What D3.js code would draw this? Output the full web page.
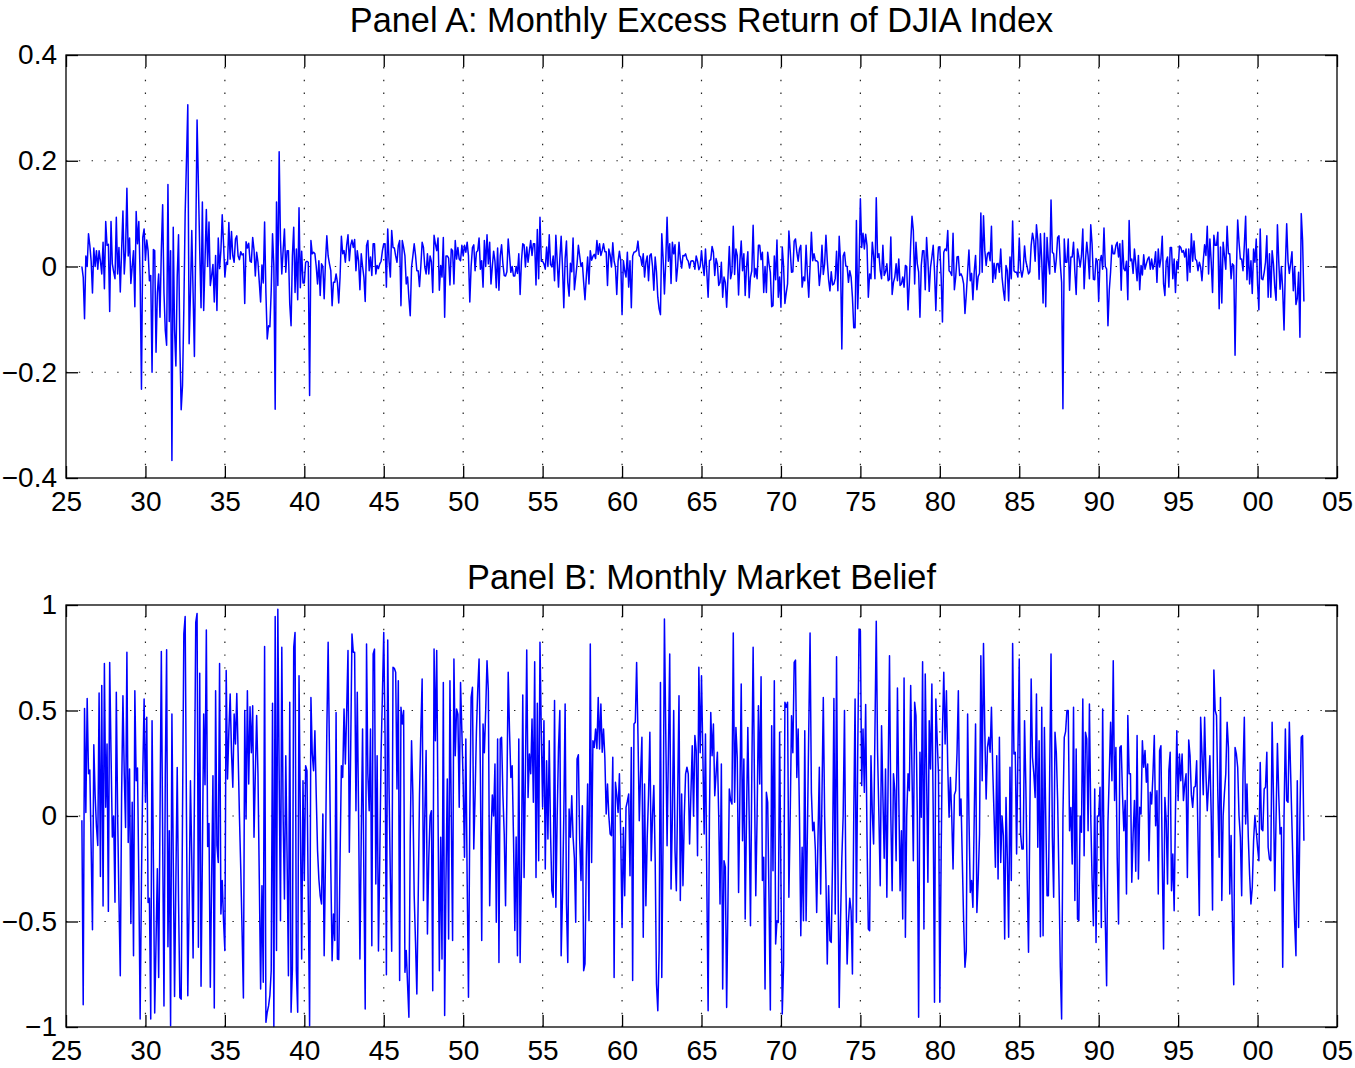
<!DOCTYPE html>
<html lang="en">
<head>
  <meta charset="UTF-8">
  <title>Monthly Excess Return of DJIA Index / Monthly Market Belief</title>
  <style>
  * {
    margin: 0;padding: 0;
  }
  body {
    background: #fff;
  }
  svg {
    display: block;
    font-family: "Liberation Sans", Arial, Helvetica, sans-serif;
  }
  </style>
  <script src="https://cdn.jsdelivr.net/npm/d3@7"></script>
</head>
<body>
<svg width="1355" height="1068" id="fig"></svg>
<script>
// first month of both series (Jan 1926), one value per month
const startYear = 1926;

const xTickYears = [1925, 1930, 1935, 1940, 1945, 1950, 1955, 1960, 1965, 1970, 1975, 1980, 1985, 1990, 1995, 2000, 2005];
const panelATicks = [-0.4, -0.2, 0, 0.2, 0.4];
const panelBTicks = [-1, -0.5, 0, 0.5, 1];
const panelTitles = ["Panel A: Monthly Excess Return of DJIA Index", "Panel B: Monthly Market Belief"];

// Panel A, one row per year (Jan..Dec)
const excessReturn = [
  0.0, -0.02, -0.099, 0.02, 0.0, 0.062, 0.04, 0.01, -0.05, 0.035, 0.0, 0.03, // 1926
  -0.005, 0.03, 0.01, -0.014, 0.046, -0.042, 0.085, 0.04, 0.042, -0.085, 0.085, 0.005,
  -0.01, -0.023, 0.093, -0.014, 0.036, -0.048, 0.03, 0.105, -0.014, 0.03, 0.148, 0.02,
  0.054, -0.032, 0.0, 0.03, -0.076, 0.104, 0.043, 0.085, -0.02, -0.232, 0.055, 0.071,
  0.012, 0.05, 0.03, -0.027, -0.017, -0.2, 0.032, 0.03, -0.162, -0.05, -0.014, -0.096, // 1930
  0.03, 0.117, -0.05, -0.121, -0.149, 0.155, -0.104, 0.03, -0.367, 0.074, -0.12, -0.188,
  -0.02, 0.06, -0.15, -0.271, -0.225, -0.08, 0.1, 0.2, 0.306, -0.146, -0.05, 0.068,
  -0.05, -0.17, 0.05, 0.277, 0.156, 0.03, -0.078, 0.122, -0.083, 0.01, 0.108, 0.0,
  0.084, -0.036, -0.017, 0.004, -0.067, 0.021, -0.083, 0.054, -0.004, 0.03, 0.098, 0.043,
  -0.02, 0.008, 0.004, 0.083, 0.014, 0.066, 0.02, 0.008, 0.052, 0.058, 0.02, 0.013,
  0.028, 0.022, 0.024, -0.07, 0.047, 0.035, 0.044, 0.01, 0.008, 0.055, 0.032, -0.018,
  0.027, 0.008, -0.03, -0.067, 0.003, -0.031, 0.084, -0.05, -0.137, -0.112, -0.114, -0.046,
  0.062, 0.0, -0.27, 0.122, -0.036, 0.217, 0.05, -0.014, 0.03, 0.071, -0.011, 0.03,
  0.03, -0.071, -0.112, 0.02, 0.074, -0.049, 0.033, -0.063, 0.111, -0.04, 0.029, -0.031,
  -0.031, 0.008, 0.01, 0.008, -0.244, 0.049, 0.024, 0.027, 0.024, 0.0, -0.033, 0.011, // 1940
  -0.055, 0.005, 0.0, -0.061, 0.01, 0.058, 0.02, 0.005, -0.008, -0.074, -0.03, -0.03,
  -0.014, -0.03, -0.069, -0.02, 0.057, 0.024, 0.03, 0.008, 0.04, 0.06, 0.011, 0.04,
  0.05, 0.036, 0.051, -0.008, 0.03, 0.01, -0.044, 0.024, 0.0, -0.02, -0.066, 0.04,
  0.049, -0.008, 0.018, -0.017, 0.043, 0.043, -0.014, 0.002, -0.004, 0.005, 0.01, 0.03,
  0.043, 0.043, -0.039, 0.071, 0.01, -0.02, 0.068, 0.036, 0.035, 0.02, 0.008, 0.04,
  0.049, -0.074, 0.049, 0.036, 0.02, -0.033, -0.02, -0.06, -0.093, -0.001, 0.02, 0.043,
  0.021, -0.008, -0.008, -0.038, 0.0, 0.046, 0.036, -0.001, -0.014, 0.024, -0.014, 0.02,
  0.009, -0.049, 0.059, 0.043, 0.03, 0.054, -0.045, 0.002, -0.02, 0.055, -0.096, 0.02,
  0.02, 0.016, -0.035, 0.033, 0.03, -0.033, 0.049, 0.014, 0.036, 0.014, 0.011, 0.04,
  0.02, 0.04, 0.027, 0.046, 0.02, -0.067, 0.0, 0.036, 0.041, -0.008, 0.027, 0.03, // 1950
  0.054, -0.005, 0.011, -0.039, 0.049, 0.0, 0.06, 0.005, 0.046, -0.033, 0.0, 0.029,
  0.01, -0.04, 0.035, -0.045, 0.02, 0.041, 0.005, -0.017, -0.018, -0.01, 0.052, 0.02,
  -0.011, 0.0, -0.018, -0.018, 0.0, -0.013, 0.024, -0.053, 0.01, 0.043, 0.041, -0.001,
  0.037, 0.008, 0.03, 0.049, 0.021, 0.043, 0.043, -0.035, 0.07, -0.023, 0.093, 0.01,
  0.01, 0.005, -0.005, 0.037, 0.0, 0.06, 0.004, -0.001, 0.02, -0.027, 0.059, 0.01,
  -0.039, 0.015, 0.057, 0.0, -0.078, 0.015, 0.048, -0.03, -0.056, 0.006, -0.01, 0.054,
  -0.044, -0.02, 0.005, 0.04, 0.02, 0.0, 0.007, -0.03, -0.063, -0.02, 0.018, -0.033,
  0.03, 0.012, 0.019, 0.023, 0.015, 0.049, 0.023, 0.043, 0.021, 0.03, 0.043, 0.028,
  0.028, -0.036, 0.033, 0.022, -0.001, 0.045, 0.01, -0.001, -0.053, 0.01, 0.029, 0.01,
  -0.091, 0.011, -0.008, -0.02, 0.027, -0.039, 0.011, -0.078, 0.02, 0.027, 0.028, 0.03, // 1960
  0.048, 0.021, 0.018, 0.002, 0.024, -0.02, 0.008, 0.02, -0.027, 0.021, 0.024, 0.0,
  -0.045, 0.018, -0.01, -0.058, -0.08, -0.091, 0.062, 0.015, -0.052, 0.01, 0.093, 0.01,
  0.043, -0.032, 0.046, 0.024, 0.041, -0.028, 0.0, 0.046, 0.014, -0.003, 0.021, 0.02,
  0.024, 0.014, 0.01, -0.003, 0.01, 0.011, 0.01, -0.005, 0.02, 0.01, -0.006, 0.0,
  0.03, 0.002, -0.017, 0.033, -0.01, -0.058, 0.011, 0.013, 0.038, 0.027, -0.017, 0.015,
  0.005, -0.036, -0.03, 0.008, -0.058, -0.02, -0.03, -0.077, -0.02, 0.038, -0.023, -0.01,
  0.076, -0.015, 0.033, 0.021, -0.054, 0.01, 0.048, -0.008, 0.024, -0.055, -0.001, 0.028,
  -0.059, -0.02, -0.008, 0.078, -0.02, -0.004, -0.023, 0.04, 0.04, 0.013, 0.027, -0.049,
  0.0, -0.049, 0.027, 0.005, -0.011, -0.076, -0.074, 0.02, -0.025, 0.05, -0.058, -0.02,
  -0.077, 0.037, 0.0, -0.07, -0.05, -0.033, 0.067, 0.03, -0.011, -0.01, 0.048, 0.052, // 1970
  0.027, 0.01, 0.033, 0.04, -0.039, -0.02, -0.027, 0.04, -0.015, -0.058, 0.0, 0.065,
  0.011, 0.024, 0.011, 0.011, 0.008, -0.036, -0.011, 0.04, -0.015, 0.005, 0.059, 0.011,
  -0.025, -0.046, -0.01, -0.035, -0.033, -0.023, 0.029, -0.046, 0.057, 0.01, -0.156, 0.02,
  0.027, 0.001, 0.0, -0.03, -0.008, -0.02, -0.058, -0.116, -0.116, 0.087, -0.08, 0.0,
  0.128, 0.036, 0.063, 0.033, 0.061, 0.04, -0.058, -0.014, -0.023, 0.046, 0.02, -0.023,
  0.13, 0.017, 0.024, -0.008, -0.023, 0.04, -0.017, -0.01, 0.005, -0.027, -0.024, 0.056,
  -0.053, -0.03, -0.02, 0.005, -0.027, 0.014, -0.036, -0.033, -0.02, -0.039, 0.002, 0.0,
  -0.082, -0.03, 0.043, 0.095, 0.068, -0.033, 0.046, 0.005, -0.01, -0.096, 0.002, 0.03,
  0.03, -0.044, 0.055, 0.011, -0.047, -0.001, 0.018, 0.04, -0.01, -0.083, -0.001, 0.037,
  0.037, -0.02, -0.105, 0.027, 0.033, 0.03, 0.068, -0.008, -0.011, -0.017, 0.063, -0.044, // 1980
  -0.02, 0.018, 0.019, -0.017, -0.014, -0.02, -0.033, -0.089, -0.053, -0.01, 0.031, -0.027,
  -0.013, -0.063, -0.01, 0.021, -0.044, -0.019, -0.013, 0.101, -0.011, 0.096, 0.03, 0.002,
  0.024, 0.027, 0.011, 0.076, -0.03, 0.006, -0.023, 0.005, 0.006, -0.011, 0.033, -0.02,
  -0.045, -0.064, 0.002, -0.008, -0.065, 0.018, -0.023, 0.086, -0.008, -0.011, -0.011, -0.02,
  0.054, -0.005, -0.02, -0.006, 0.039, 0.01, -0.001, -0.014, -0.01, 0.04, 0.063, 0.049,
  0.01, 0.079, 0.05, -0.024, 0.062, 0.011, -0.069, 0.063, -0.076, 0.055, 0.01, -0.014,
  0.126, 0.027, 0.024, -0.011, 0.014, 0.055, 0.058, 0.005, -0.03, -0.269, 0.052, 0.008,
  0.008, 0.052, -0.045, 0.018, 0.018, 0.046, -0.01, -0.053, 0.033, 0.018, -0.001, 0.02,
  0.071, -0.042, 0.011, 0.046, 0.02, -0.023, 0.079, 0.043, -0.024, -0.025, 0.015, 0.01,
  -0.066, 0.01, 0.021, -0.005, 0.073, 0.0, -0.005, -0.112, -0.045, -0.01, 0.04, 0.024, // 1990
  0.024, 0.04, 0.046, 0.018, 0.043, -0.045, 0.049, -0.004, -0.008, 0.01, -0.063, 0.087,
  0.011, 0.014, -0.013, 0.033, 0.005, -0.027, 0.021, -0.044, 0.002, -0.016, 0.022, -0.005,
  0.005, 0.014, 0.018, -0.005, 0.014, -0.005, 0.005, 0.028, -0.03, 0.033, -0.001, 0.015,
  0.057, -0.033, -0.055, 0.01, 0.018, -0.039, 0.036, 0.036, -0.023, 0.014, -0.049, 0.01,
  -0.005, 0.039, 0.036, 0.027, 0.03, 0.018, 0.033, -0.027, 0.033, -0.011, 0.062, 0.01,
  0.048, 0.014, 0.011, -0.008, 0.008, -0.001, -0.027, 0.011, 0.041, 0.021, 0.076, -0.014,
  0.052, 0.008, -0.049, 0.059, 0.04, 0.04, 0.065, -0.08, 0.037, -0.069, 0.046, 0.02,
  -0.005, 0.076, 0.024, 0.024, -0.023, 0.005, 0.002, -0.168, -0.011, 0.088, 0.046, 0.014,
  0.014, -0.008, 0.04, 0.095, -0.025, 0.033, -0.033, 0.011, -0.051, 0.033, 0.008, 0.052,
  -0.033, -0.082, 0.071, -0.023, -0.025, -0.011, 0.008, 0.058, -0.058, 0.024, -0.058, 0.03, // 2000
  0.005, -0.039, -0.064, 0.079, 0.01, -0.043, 0.0, -0.045, -0.12, -0.001, 0.081, 0.01,
  -0.013, 0.006, 0.028, -0.046, 0.0, -0.072, -0.06, -0.011, -0.134, 0.1, 0.05, -0.066
];

// Panel B, same months
const marketBelief = [
  -0.02, -0.894, 0.51, 0.017, 0.557, 0.2, 0.218, -0.15, -0.539, 0.338, 0.1, -0.05, // 1926
  -0.14, 0.583, -0.287, 0.618, -0.427, 0.723, 0.041, 0.341, -0.452, 0.727, 0.3, -0.1,
  0.0, -0.409, 0.586, 0.01, -0.4, -0.757, 0.1, 0.57, 0.2, -0.054, 0.776, -0.125,
  0.223, -0.509, 0.065, -0.662, 0.594, 0.167, 0.227, -0.3, -0.962, -0.3, 0.2, 0.555,
  0.065, 0.468, -0.41, -0.39, -0.962, 0.452, -0.2, -0.934, -0.6, -0.25, -0.765, 0.0, // 1930
  0.78, -0.1, -0.9, 0.2, 0.788, -0.62, -0.07, -0.994, 0.483, -0.2, -0.856, -0.3,
  0.23, -0.4, -0.86, -0.868, 0.0, 0.863, 0.945, 0.0, -0.852, -0.4, 0.167, -0.2,
  -0.673, 0.1, 0.918, 0.96, -0.622, 0.676, -0.807, -0.2, 0.483, 0.148, 0.881, -0.145,
  -0.035, -0.812, -0.3, 0.191, -0.91, 0.594, -0.14, -0.22, 0.723, -0.464, -0.306, -0.5,
  -0.638, 0.689, 0.175, 0.4, 0.578, 0.3, 0.136, 0.483, 0.341, 0.581, 0.3, 0.0,
  -0.25, -0.55, -0.863, 0.5, -0.014, 0.594, 0.152, 0.518, 0.3, 0.523, -0.101, 0.2,
  0.476, 0.2, -0.3, -0.82, -0.33, -0.788, 0.803, -0.978, -0.93, -0.9, -0.85, -0.733,
  0.534, -0.998, 0.945, -0.638, 0.98, 0.2, -0.496, 0.8, 0.0, -0.393, 0.286, -0.2,
  -0.757, 0.539, -0.93, -0.725, 0.8, 0.87, -0.733, -0.93, 0.665, 0.0, -0.678, 0.167,
  -0.306, 0.238, 0.215, -0.4, -0.994, 0.562, 0.294, 0.215, 0.404, 0.1, -0.164, -0.3, // 1940
  -0.378, -0.417, 0.01, -0.662, -0.2, 0.4, 0.823, 0.3, -0.243, -0.686, -0.464, -0.59,
  0.491, -0.678, -0.68, -0.2, 0.238, 0.183, 0.507, 0.246, 0.5, 0.784, -0.172, 0.3,
  0.863, 0.776, 0.776, 0.025, 0.586, 0.0, -0.678, -0.1, 0.412, -0.3, -0.915, 0.815,
  0.2, 0.025, 0.412, -0.615, 0.768, 0.791, -0.322, 0.286, -0.64, -0.2, 0.3, 0.578,
  0.87, 0.373, -0.752, 0.834, 0.136, -0.3, -0.641, 0.705, 0.7, 0.681, 0.128, 0.641,
  -0.78, 0.515, 0.436, 0.5, -0.741, -0.638, -0.8, -0.954, -0.1, 0.357, 0.1, -0.378,
  -0.6, -0.844, -0.4, 0.1, 0.4, 0.649, -0.401, 0.0, 0.31, -0.559, -0.2, 0.0,
  0.025, -0.828, 0.791, 0.357, 0.784, 0.0, -0.733, -0.101, -0.678, 0.633, -0.946, -0.3,
  0.175, -0.583, 0.641, 0.0, -0.59, 0.744, 0.286, 0.507, 0.483, 0.041, 0.633, 0.4,
  0.152, -0.196, 0.365, -0.3, -0.859, 0.0, 0.562, 0.61, -0.156, 0.1, 0.4, 0.6, // 1950
  0.744, 0.2, -0.59, 0.436, 0.3, 0.5, 0.736, 0.594, -0.425, -0.1, 0.1, 0.0,
  0.246, -0.504, 0.365, -0.694, 0.365, 0.373, 0.1, -0.085, -0.425, 0.1, 0.681, 0.4,
  0.183, 0.238, -0.101, -0.543, -0.1, -0.662, 0.365, -0.694, -0.243, 0.573, -0.291, 0.2,
  0.787, 0.088, 0.294, 0.2, 0.46, 0.065, 0.731, -0.291, 0.534, -0.212, 0.823, 0.4,
  0.041, 0.452, -0.251, 0.262, -0.109, 0.357, -0.085, -0.354, -0.385, 0.547, -0.433, 0.0,
  0.325, 0.5, -0.662, -0.38, 0.0, 0.531, -0.417, -0.694, 0.033, -0.101, 0.096, -0.1,
  -0.2, -0.504, 0.27, 0.29, -0.117, -0.306, 0.049, -0.733, -0.701, -0.2, 0.152, -0.496,
  0.815, -0.22, 0.357, 0.325, 0.412, 0.32, 0.562, 0.318, 0.531, 0.302, 0.412, 0.278,
  0.01, 0.152, 0.0, -0.085, -0.093, 0.278, -0.765, 0.16, 0.1, 0.017, 0.2, -0.1,
  -0.528, -0.054, -0.378, 0.041, 0.07, 0.104, -0.283, 0.325, -0.78, 0.436, 0.444, 0.728, // 1960
  0.389, -0.022, 0.2, 0.373, -0.575, 0.152, -0.425, -0.1, 0.1, 0.397, -0.212, 0.0,
  0.144, -0.2, -0.796, -0.923, -0.638, 0.633, -0.765, -0.1, 0.934, 0.4, -0.141, 0.3,
  0.768, -0.346, 0.0, 0.5, -0.164, -0.354, 0.1, 0.57, -0.401, 0.104, -0.33, 0.0,
  0.2, 0.231, 0.2, -0.133, 0.104, 0.333, 0.0, 0.381, 0.31, -0.188, 0.705, 0.3,
  0.665, 0.3, -0.085, 0.389, -0.3, -0.923, 0.0, 0.491, 0.286, 0.436, 0.096, 0.2,
  0.302, 0.0, -0.417, 0.246, -0.82, -0.212, -0.243, -0.907, -0.4, 0.128, 0.073, 0.057,
  0.867, 0.065, 0.42, 0.278, -0.362, 0.1, 0.626, -0.117, 0.27, -0.488, 0.0, 0.42,
  0.0, -0.52, 0.2, 0.8, 0.16, -0.378, 0.0, 0.523, 0.152, 0.66, -0.306, -0.196,
  -0.82, 0.112, 0.065, -0.4, -0.919, 0.428, -0.259, 0.641, -0.607, -0.496, -0.504, 0.397,
  -0.3, -0.938, -0.7, 0.539, 0.515, 0.539, -0.385, 0.0, 0.475, 0.3, 0.728, 0.739, // 1970
  0.183, 0.412, 0.0, -0.567, -0.148, -0.496, 0.404, -0.496, -0.07, 0.4, 0.867, 0.112,
  -0.07, -0.03, -0.16, -0.457, -0.1, 0.231, -0.37, 0.1, 0.562, 0.0, -0.3, -0.701,
  -0.33, -0.59, -0.599, -0.2, 0.557, -0.464, 0.755, -0.2, -0.907, -0.5, -0.2, 0.0,
  0.5, -0.3, -0.701, -0.5, -0.39, -0.449, -0.749, 0.0, 0.555, -0.504, 0.3, 0.886,
  0.878, 0.144, 0.412, 0.112, 0.528, -0.1, -0.536, -0.544, 0.286, 0.017, -0.133, 0.4,
  0.923, 0.3, 0.0, -0.33, 0.428, 0.1, -0.2, 0.223, -0.385, 0.2, 0.76, 0.0,
  -0.354, 0.2, 0.12, -0.212, 0.607, 0.1, -0.354, -0.07, -0.488, 0.654, -0.575, 0.0,
  0.2, 0.12, 0.618, 0.2, -0.212, 0.539, 0.476, 0.0, -0.954, 0.302, -0.006, 0.731,
  -0.536, 0.673, 0.2, -0.314, 0.452, 0.223, 0.626, 0.03, -0.883, 0.555, 0.365, 0.2,
  -0.883, -0.2, 0.4, 0.681, 0.341, 0.594, 0.231, -0.006, 0.183, 0.0, -0.251, 0.1, // 1980
  0.12, 0.3, 0.594, 0.002, 0.081, -0.212, -0.5, -0.717, -0.64, 0.483, 0.0, -0.362,
  -0.306, -0.433, 0.0, 0.436, -0.457, -0.3, -0.085, 0.76, 0.167, 0.818, 0.4, 0.081,
  0.325, 0.373, 0.302, 0.515, 0.214, 0.0, -0.243, 0.286, -0.299, 0.373, -0.22, 0.0,
  -0.093, -0.583, 0.088, -0.2, -0.575, 0.231, -0.306, 0.818, 0.294, 0.302, -0.18, 0.3,
  0.744, -0.085, -0.156, -0.156, 0.452, 0.136, -0.3, -0.646, 0.0, 0.649, 0.278, 0.2,
  0.088, 0.578, -0.148, 0.357, -0.572, 0.515, -0.567, 0.42, 0.0, -0.378, -0.378, 0.2,
  0.768, -0.1, -0.385, 0.397, 0.3, 0.073, -0.3, -0.717, -0.962, 0.0, 0.373, 0.4,
  0.5, 0.5, -0.07, 0.04, -0.227, 0.515, -0.401, 0.318, -0.488, -0.496, 0.0, -0.077,
  0.555, -0.188, 0.397, 0.365, -0.07, 0.531, 0.0, -0.3, -0.52, 0.128, -0.599, 0.0,
  0.0, 0.136, -0.528, 0.507, -0.2, -0.5, -0.804, -0.03, 0.2, 0.444, 0.167, 0.736, // 1990
  0.073, 0.325, -0.2, -0.512, 0.325, 0.333, 0.1, -0.07, 0.073, -0.37, 0.476, 0.2,
  0.2, -0.314, -0.085, 0.073, -0.262, 0.381, -0.299, 0.041, 0.01, 0.357, 0.231, 0.31,
  0.16, 0.246, -0.212, 0.112, 0.057, 0.2, 0.381, -0.046, 0.12, -0.37, 0.31, 0.333,
  -0.2, -0.63, 0.088, -0.02, -0.322, 0.215, 0.302, -0.354, -0.18, -0.449, 0.025, 0.404,
  0.073, 0.294, 0.167, 0.294, 0.073, 0.15, 0.2, -0.291, 0.36, 0.286, 0.1, 0.041,
  0.136, 0.14, 0.262, -0.1, -0.472, 0.468, 0.3, 0.101, 0.468, 0.2, 0.025, 0.15,
  0.286, 0.0, -0.445, 0.692, 0.5, 0.476, 0.1, -0.196, 0.562, -0.401, 0.0, 0.112,
  0.2, 0.444, 0.325, -0.37, -0.093, -0.5, -0.8, 0.325, 0.294, 0.23, 0.0, -0.1,
  -0.378, 0.2, 0.468, -0.038, 0.152, -0.1, -0.28, -0.417, -0.338, -0.117, 0.002, -0.07,
  -0.148, -0.212, 0.254, -0.062, -0.07, 0.128, 0.136, 0.302, -0.148, -0.204, -0.212, 0.444, // 2000
  0.1, -0.354, 0.0, 0.344, 0.1, -0.085, -0.054, -0.717, 0.0, 0.412, 0.073, 0.065,
  0.444, 0.2, -0.05, -0.3, -0.5, -0.662, 0.167, -0.528, 0.0, 0.373, 0.381, -0.117
];

const svg = d3.select("#fig");

const left = 66, right = 1337;
const tickLen = 12;

// x axis is shared: calendar years, labelled with two digits
const x = d3.scaleLinear().domain([1925, 2005]).range([left, right]);
const yearLabel = d => d3.format("02d")(d % 100);
const numLabel = d => (d < 0 ? "\u2212" : "") + Math.abs(d);

function drawPanel (values, yTicks, yDomain, top, bottom, title, titleY) {
  const y = d3.scaleLinear().domain(yDomain).range([bottom, top]);
  const g = svg.append("g");

  // dotted grid
  const grid = g.append("g")
    .attr("stroke", "#222")
    .attr("stroke-width", 1.2)
    .attr("stroke-dasharray", "1.4,11.4");
  grid.selectAll("line.gx").data(xTickYears.slice(1, -1)).enter()
    .append("line")
    .attr("x1", d => x(d)).attr("x2", d => x(d))
    .attr("y1", bottom).attr("y2", top);
  grid.selectAll("line.gy").data(yTicks.slice(1, -1)).enter()
    .append("line")
    .attr("x1", left).attr("x2", right)
    .attr("y1", d => y(d)).attr("y2", d => y(d));

  // data line
  const line = d3.line()
    .x((d, i) => x(startYear + i / 12))
    .y(d => y(d));
  g.append("path")
    .datum(values)
    .attr("fill", "none")
    .attr("stroke", "#0000ff")
    .attr("stroke-width", 1.5)
    .attr("stroke-linejoin", "round")
    .attr("d", line);

  // inward ticks on all four sides, labels only bottom and left
  const bottomAxis = g.append("g")
    .attr("transform", `translate(0,${bottom})`)
    .call(d3.axisBottom(x).tickValues(xTickYears).tickFormat(yearLabel)
      .tickSizeInner(-tickLen).tickSizeOuter(0).tickPadding(13));
  const topAxis = g.append("g")
    .attr("transform", `translate(0,${top})`)
    .call(d3.axisTop(x).tickValues(xTickYears).tickFormat("")
      .tickSizeInner(-tickLen).tickSizeOuter(0));
  const leftAxis = g.append("g")
    .attr("transform", `translate(${left},0)`)
    .call(d3.axisLeft(y).tickValues(yTicks).tickFormat(numLabel)
      .tickSizeInner(-tickLen).tickSizeOuter(0).tickPadding(9));
  const rightAxis = g.append("g")
    .attr("transform", `translate(${right},0)`)
    .call(d3.axisRight(y).tickValues(yTicks).tickFormat("")
      .tickSizeInner(-tickLen).tickSizeOuter(0));

  [bottomAxis, topAxis, leftAxis, rightAxis].forEach(a => {
    a.select(".domain").remove();
    a.selectAll(".tick line").attr("stroke", "#000").attr("stroke-width", 1.3);
    a.selectAll("text")
      .attr("font-family", "Liberation Sans, Arial, Helvetica, sans-serif")
      .attr("font-size", 28)
      .attr("fill", "#000");
  });

  // axes box
  g.append("rect")
    .attr("x", left).attr("y", top)
    .attr("width", right - left).attr("height", bottom - top)
    .attr("fill", "none")
    .attr("stroke", "#000")
    .attr("stroke-width", 1.3);

  g.append("text")
    .attr("x", (left + right) / 2)
    .attr("y", titleY)
    .attr("text-anchor", "middle")
    .attr("font-size", 34.3)
    .attr("fill", "#000")
    .text(title);
}

drawPanel(excessReturn, panelATicks, [-0.4, 0.4], 55, 478, panelTitles[0], 32);
drawPanel(marketBelief, panelBTicks, [-1, 1], 605, 1027, panelTitles[1], 589);
</script>
</body>
</html>
